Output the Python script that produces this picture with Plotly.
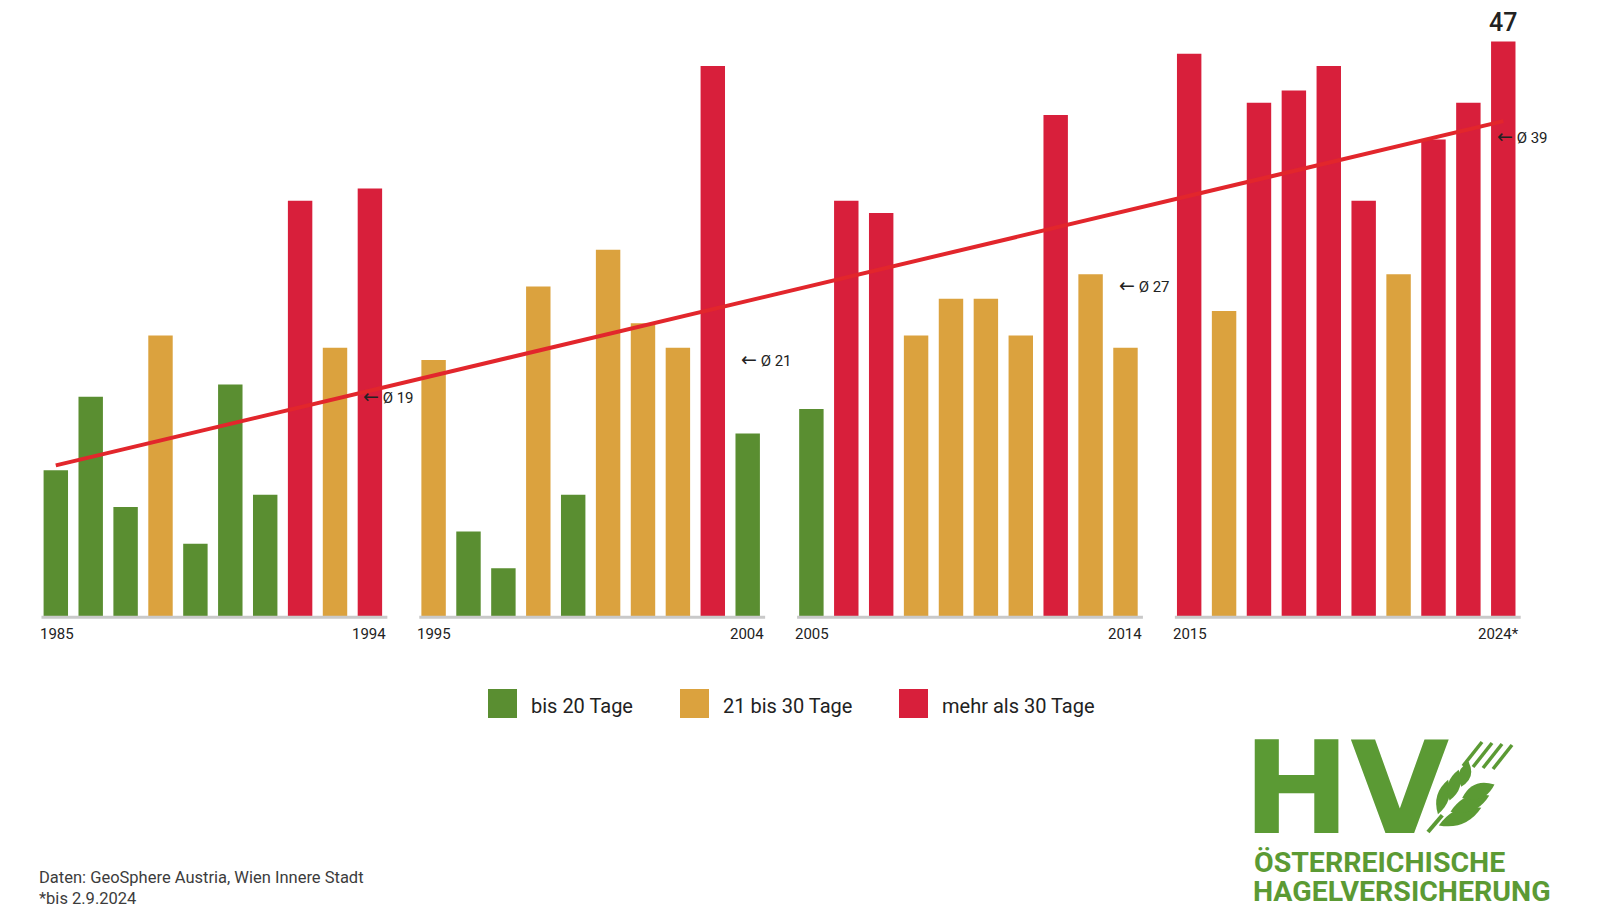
import math
import plotly.graph_objects as go

# ---------------- data ----------------
years = list(range(1985, 2025))
hail_days_1985_1994 = [12, 18, 9, 23, 6, 19, 10, 34, 22, 35]
hail_days_1995_2004 = [21, 7, 4, 27, 10, 30, 24, 22, 45, 15]
hail_days_2005_2014 = [17, 34, 33, 23, 26, 26, 23, 41, 28, 22]
hail_days_2015_2024 = [46, 25, 42, 43, 45, 34, 28, 39, 42, 47]
decade_avg_labels = [19, 21, 27, 39]
decade_tick_labels = [("1985", "1994"), ("1995", "2004"), ("2005", "2014"), ("2015", "2024*")]
trend_start = 12.4   # trend line value at 1985
trend_end = 40.5     # trend line value at 2024
category_names = ["bis 20 Tage", "21 bis 30 Tage", "mehr als 30 Tage"]
category_colors = ["#5a8e31", "#dba23e", "#d81f3b"]
source_lines = ["Daten: GeoSphere Austria, Wien Innere Stadt", "*bis 2.9.2024"]
logo_big = "HV"
logo_lines = ["ÖSTERREICHISCHE", "HAGELVERSICHERUNG"]

values = hail_days_1985_1994 + hail_days_1995_2004 + hail_days_2005_2014 + hail_days_2015_2024


def category(v):
    if v <= 20:
        return 0
    if v <= 30:
        return 1
    return 2


# ---------------- layout constants ----------------
W, H = 1616, 909
GAP = 0.825          # extra space between decades (in bar slots)
PX_X = 34.9          # px per bar slot
PX_Y = 12.25         # px per day
FIRST_PX = 55.8      # pixel x of the first bar centre
BASE_PX = 617.3      # pixel y of the baseline
AVG_LABEL_YSHIFT = [-11, 1, 2, 4]
FONT = "Roboto, 'Open Sans', sans-serif"
TEXT = "#222222"
LOGO_GREEN = "#5b9a34"

pos = [i + GAP * (i // 10) for i in range(len(years))]

x_lo = -FIRST_PX / PX_X
x_hi = x_lo + W / PX_X
y_hi = BASE_PX / PX_Y
y_lo = y_hi - H / PX_Y

fig = go.Figure()

# bars, one trace per category
for c in range(3):
    xs = [p for p, v in zip(pos, values) if category(v) == c]
    ys = [v for v in values if category(v) == c]
    yrs = [y for y, v in zip(years, values) if category(v) == c]
    fig.add_trace(go.Bar(
        x=xs, y=ys, width=0.70, name=category_names[c],
        marker=dict(color=category_colors[c], line=dict(width=0)),
        customdata=yrs, hovertemplate="%{customdata}: %{y}<extra></extra>",
        showlegend=False,
    ))

# trend line
fig.add_trace(go.Scatter(
    x=[pos[0], pos[-1]], y=[trend_start, trend_end], mode="lines",
    line=dict(color="#e2262c", width=4), showlegend=False, hoverinfo="skip",
))

shapes = []
annotations = []

# decade baselines, tick labels, averages
for g in range(4):
    p0 = pos[g * 10]
    p1 = pos[g * 10 + 9]
    shapes.append(dict(type="line", xref="x", yref="y", x0=p0 - 0.41, x1=p1 + 0.5,
                       y0=0, y1=0, line=dict(color="#c9c9c9", width=3), layer="above"))
    annotations.append(dict(x=p0 - 0.52, y=0, xref="x", yref="y", text=decade_tick_labels[g][0],
                            showarrow=False, xanchor="left", yanchor="middle", yshift=-17,
                            font=dict(family=FONT, size=15, color=TEXT)))
    annotations.append(dict(x=p1 + 0.52, y=0, xref="x", yref="y", text=decade_tick_labels[g][1],
                            showarrow=False, xanchor="right", yanchor="middle", yshift=-17,
                            font=dict(family=FONT, size=15, color=TEXT)))
    annotations.append(dict(x=p1 - 0.25, y=decade_avg_labels[g], xref="x", yref="y",
                            text="<span style='font-family:DejaVu Sans;font-size:19px'>\u2190</span>"
                                 " \u00d8 %d" % decade_avg_labels[g],
                            showarrow=False, xanchor="left", yanchor="middle",
                            yshift=AVG_LABEL_YSHIFT[g],
                            font=dict(family=FONT, size=15, color=TEXT)))

# highlighted last value
annotations.append(dict(x=pos[-1], y=values[-1], xref="x", yref="y", text=str(values[-1]),
                        showarrow=False, xanchor="center", yanchor="bottom", yshift=3,
                        font=dict(family=FONT, size=25, color=TEXT, weight=500)))


def px(x):
    return x / W


def py(y):
    return 1 - y / H


# legend (manual, large squares)
legend_square_x = [488, 680, 899]
for c in range(3):
    x0 = legend_square_x[c]
    shapes.append(dict(type="rect", xref="paper", yref="paper",
                       x0=px(x0), x1=px(x0 + 29), y0=py(718), y1=py(689),
                       fillcolor=category_colors[c], line=dict(width=0)))
    annotations.append(dict(x=px(x0 + 41), y=py(706), xref="paper", yref="paper",
                            text=category_names[c], showarrow=False, xanchor="left",
                            yanchor="middle", font=dict(family=FONT, size=20, color=TEXT)))

# source
for k, line in enumerate(source_lines):
    annotations.append(dict(x=px(37), y=py(877 + 21 * k), xref="paper", yref="paper",
                            text=line, showarrow=False, xanchor="left", yanchor="middle",
                            font=dict(family=FONT, size=16.5, color="#3c3c3c")))

# logo text
annotations.append(dict(x=px(1241), y=py(788), xref="paper", yref="paper", text=logo_big,
                        showarrow=False, xanchor="left", yanchor="middle",
                        font=dict(family="'DejaVu Sans', sans-serif", size=128,
                                  color=LOGO_GREEN, weight=700)))
annotations.append(dict(x=px(1252), y=py(862), xref="paper", yref="paper",
                        text=logo_lines[0], showarrow=False, xanchor="left", yanchor="middle",
                        font=dict(family=FONT, size=28.5, color=LOGO_GREEN, weight=700)))
annotations.append(dict(x=px(1252), y=py(909), xref="paper", yref="paper",
                        text=logo_lines[1], showarrow=False, xanchor="left", yanchor="bottom",
                        borderpad=0,
                        font=dict(family=FONT, size=28.5, color=LOGO_GREEN, weight=700)))


# logo wheat ear (decorative shapes)
def pt(x, y):
    return "%.5f,%.5f" % (px(x), py(y))


ax0 = (1428.0, 832.0)
ax1 = (1491.0, 758.0)
L = math.hypot(ax1[0] - ax0[0], ax1[1] - ax0[1])
ux, uy = (ax1[0] - ax0[0]) / L, (ax1[1] - ax0[1]) / L
nx_, ny_ = -uy, ux   # screen-right perpendicular (points down-right)


def rot(vx, vy, deg):
    a = math.radians(deg)
    return vx * math.cos(a) - vy * math.sin(a), vx * math.sin(a) + vy * math.cos(a)


def grain(bx, by, dx, dy, length, half_w):
    tx, ty = bx + dx * length, by + dy * length
    mx, my = (bx + tx) / 2, (by + ty) / 2
    qx, qy = -dy, dx
    c1 = (mx + qx * 2 * half_w, my + qy * 2 * half_w)
    c2 = (mx - qx * 2 * half_w, my - qy * 2 * half_w)
    return "M%s Q%s %s Q%s %sZ" % (pt(bx, by), pt(*c1), pt(tx, ty), pt(*c2), pt(bx, by))


# stem
shapes.append(dict(type="path", xref="paper", yref="paper",
                   path="M%s L%s" % (pt(*ax0), pt(ax0[0] + ux * 22, ax0[1] + uy * 22)),
                   line=dict(color=LOGO_GREEN, width=4)))
# right-hand grains (bigger)
for d, ln in [(12, 46), (30, 42), (48, 35)]:
    bx, by = ax0[0] + ux * d + nx_ * 4, ax0[1] + uy * d + ny_ * 4
    dx, dy = rot(ux, uy, 27)
    shapes.append(dict(type="path", xref="paper", yref="paper", path=grain(bx, by, dx, dy, ln, 7.5),
                       fillcolor=LOGO_GREEN, line=dict(width=0)))
# left-hand grains
for d, ln in [(20, 36), (38, 32), (56, 26)]:
    bx, by = ax0[0] + ux * d - nx_ * 4, ax0[1] + uy * d - ny_ * 4
    dx, dy = rot(ux, uy, -24)
    shapes.append(dict(type="path", xref="paper", yref="paper", path=grain(bx, by, dx, dy, ln, 6),
                       fillcolor=LOGO_GREEN, line=dict(width=0)))
# awns
for k in range(4):
    sx = 1463 + 10 * k
    sy = 766 + 1 * k
    shapes.append(dict(type="path", xref="paper", yref="paper",
                       path="M%s L%s" % (pt(sx, sy), pt(sx + 19, sy - 24)),
                       line=dict(color=LOGO_GREEN, width=3.5)))

fig.update_layout(
    width=W, height=H,
    margin=dict(l=0, r=0, t=0, b=0),
    paper_bgcolor="white", plot_bgcolor="white",
    xaxis=dict(range=[x_lo, x_hi], visible=False, fixedrange=True),
    yaxis=dict(range=[y_lo, y_hi], visible=False, fixedrange=True),
    barmode="overlay",
    shapes=shapes,
    annotations=annotations,
    showlegend=False,
    font=dict(family=FONT, color=TEXT),
)

fig.write_html("out.html", config={"displayModeBar": False},
               post_script="document.body.style.margin='0';document.body.style.overflow='hidden';")
